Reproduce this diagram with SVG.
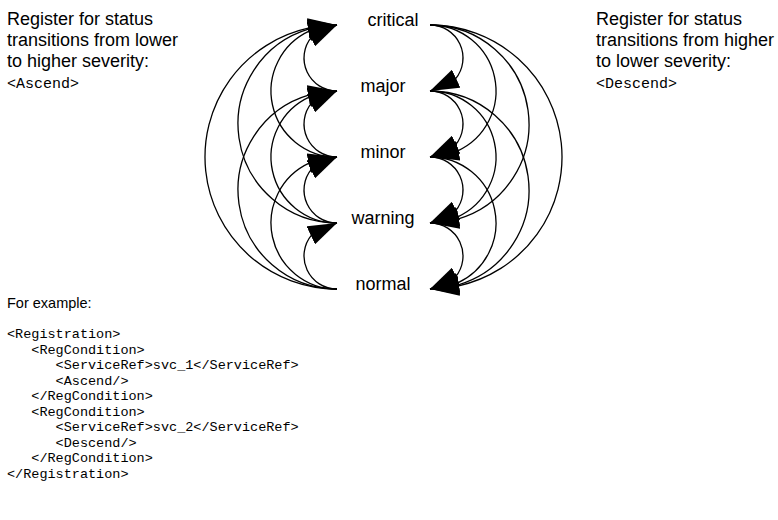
<svg xmlns="http://www.w3.org/2000/svg" width="778" height="520" viewBox="0 0 778 520">
<style>
.sans{font-family:"Liberation Sans",Arial,Helvetica,sans-serif;fill:#000}
.hdr{font-size:18px}
.lbl{font-size:18px;text-anchor:middle}
.mono{font-family:"Liberation Mono","Courier New",monospace;fill:#000}
.code{font-size:13.5px}
.tag{font-size:15px}
.arc{fill:none;stroke:#000;stroke-width:1.3;marker-end:url(#ah)}
</style>
<defs>
<marker id="ah" markerUnits="userSpaceOnUse" viewBox="0 0 29 20" markerWidth="29" markerHeight="20" refX="29" refY="10" orient="auto">
<path d="M0,0 L29,10 L0,20 Z" fill="#000"/>
</marker>
</defs>
<rect width="778" height="520" fill="#fff"/>

<g id="note-ascend">
<text class="sans hdr" x="7" y="25">Register for status</text>
<text class="sans hdr" x="7" y="46">transitions from lower</text>
<text class="sans hdr" x="7" y="67">to higher severity:</text>
<text class="mono tag" x="7" y="88">&lt;Ascend&gt;</text>
</g>
<g id="note-descend">
<text class="sans hdr" x="596" y="25">Register for status</text>
<text class="sans hdr" x="596" y="46">transitions from higher</text>
<text class="sans hdr" x="596" y="67">to lower severity:</text>
<text class="mono tag" x="596" y="88">&lt;Descend&gt;</text>
</g>

<g id="node-critical"><text class="sans lbl" x="393" y="26">critical</text></g>
<g id="node-major"><text class="sans lbl" x="383" y="92">major</text></g>
<g id="node-minor"><text class="sans lbl" x="383" y="158">minor</text></g>
<g id="node-warning"><text class="sans lbl" x="383" y="224">warning</text></g>
<g id="node-normal"><text class="sans lbl" x="383" y="290">normal</text></g>

<g id="connectors">
<!-- ascending (left side) -->
<path class="arc" d="M337,91 A33,33 0 0 1 311.65,36.88 L337,25"/>
<path class="arc" d="M337,157 A66,66 0 0 1 309.63,30.94 L337,25"/>
<path class="arc" d="M337,223 A99,99 0 0 1 309.28,28.96 L337,25"/>
<path class="arc" d="M337,289 A132,132 0 0 1 309.15,27.97 L337,25"/>
<path class="arc" d="M337,157 A33,33 0 0 1 311.65,102.88 L337,91"/>
<path class="arc" d="M337,223 A66,66 0 0 1 309.63,96.94 L337,91"/>
<path class="arc" d="M337,289 A99,99 0 0 1 309.28,94.96 L337,91"/>
<path class="arc" d="M337,223 A33,33 0 0 1 311.65,168.88 L337,157"/>
<path class="arc" d="M337,289 A66,66 0 0 1 309.63,162.94 L337,157"/>
<path class="arc" d="M337,289 A33,33 0 0 1 311.65,234.88 L337,223"/>
<!-- descending (right side) -->
<path class="arc" d="M430,25 A33,33 0 0 1 455.35,79.12 L430,91"/>
<path class="arc" d="M430,25 A66,66 0 0 1 457.37,151.06 L430,157"/>
<path class="arc" d="M430,91 A33,33 0 0 1 455.35,145.12 L430,157"/>
<path class="arc" d="M430,25 A99,99 0 0 1 457.72,219.04 L430,223"/>
<path class="arc" d="M430,91 A66,66 0 0 1 457.37,217.06 L430,223"/>
<path class="arc" d="M430,157 A33,33 0 0 1 455.35,211.12 L430,223"/>
<path class="arc" d="M430,25 A132,132 0 0 1 457.85,286.03 L430,289"/>
<path class="arc" d="M430,91 A99,99 0 0 1 457.72,285.04 L430,289"/>
<path class="arc" d="M430,157 A66,66 0 0 1 457.37,283.06 L430,289"/>
<path class="arc" d="M430,223 A33,33 0 0 1 455.35,277.12 L430,289"/>
</g>

<g id="example">
<text class="sans" font-size="14.5" x="7" y="308">For example:</text>
<text class="mono code" xml:space="preserve" x="7" y="338">&lt;Registration&gt;</text>
<text class="mono code" xml:space="preserve" x="7" y="353.5">   &lt;RegCondition&gt;</text>
<text class="mono code" xml:space="preserve" x="7" y="369">      &lt;ServiceRef&gt;svc_1&lt;/ServiceRef&gt;</text>
<text class="mono code" xml:space="preserve" x="7" y="384.5">      &lt;Ascend/&gt;</text>
<text class="mono code" xml:space="preserve" x="7" y="400">   &lt;/RegCondition&gt;</text>
<text class="mono code" xml:space="preserve" x="7" y="415.5">   &lt;RegCondition&gt;</text>
<text class="mono code" xml:space="preserve" x="7" y="431">      &lt;ServiceRef&gt;svc_2&lt;/ServiceRef&gt;</text>
<text class="mono code" xml:space="preserve" x="7" y="446.5">      &lt;Descend/&gt;</text>
<text class="mono code" xml:space="preserve" x="7" y="462">   &lt;/RegCondition&gt;</text>
<text class="mono code" xml:space="preserve" x="7" y="477.5">&lt;/Registration&gt;</text>
</g>
</svg>
